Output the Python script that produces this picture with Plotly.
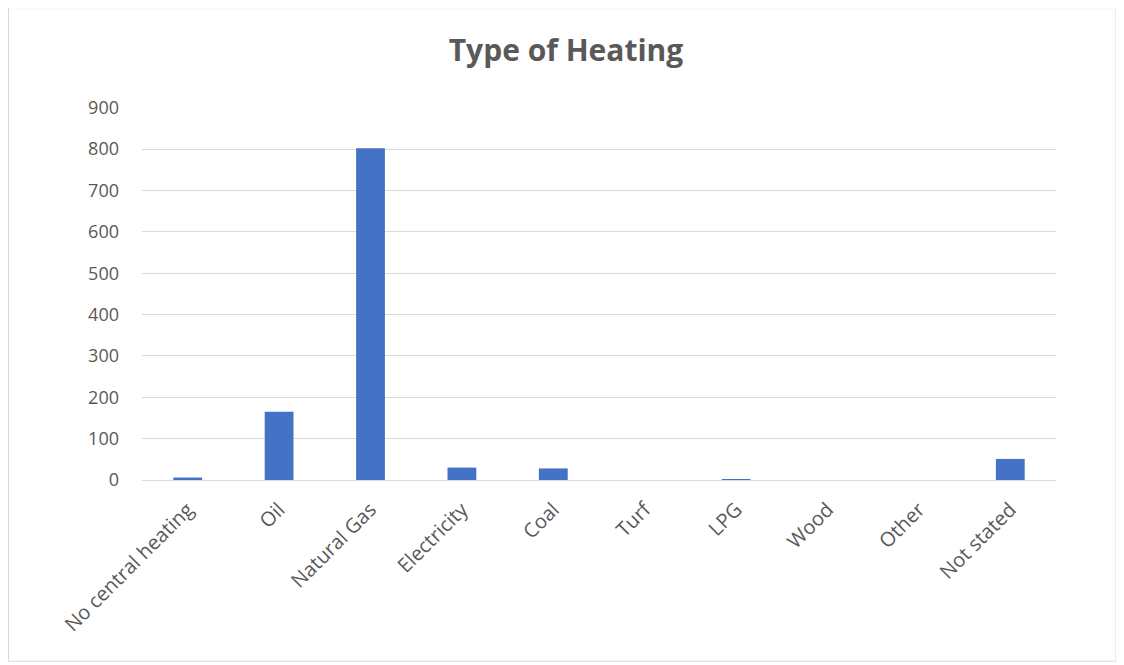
import plotly.graph_objects as go

categories = ["No central heating", "Oil", "Natural Gas", "Electricity", "Coal",
              "Turf", "LPG", "Wood", "Other", "Not stated"]
values = [6, 165, 802, 30, 28, 0, 1, 0, 0, 51]
y_ticks = [0, 100, 200, 300, 400, 500, 600, 700, 800, 900]

OFF = 8  # page body margin
W, H = 1124 - OFF, 665 - OFF
L = 142 - OFF
R = 1124 - 1056
T = 107 - OFF
B = 665 - 480.5

fig = go.Figure(go.Bar(x=categories, y=values, marker=dict(color="#4472C4", line=dict(width=0))))

pw = W - L - R
ph = H - T - B
def px_x(p):
    return (p - OFF - L) / pw
def px_y(p):
    return (H - B - (p - OFF)) / ph

fig.add_shape(type="rect", xref="paper", yref="paper",
              x0=px_x(8.5), x1=px_x(1116), y0=px_y(662), y1=px_y(7.5),
              line=dict(color="#d9d9d9", width=1), fillcolor="rgba(0,0,0,0)", layer="below")

fig.update_layout(
    width=W, height=H,
    margin=dict(l=L, r=R, t=T, b=B),
    paper_bgcolor="white", plot_bgcolor="white",
    bargap=0.685,
    title=dict(text="<b>Type of Heating</b>", x=0.5, xanchor="center", y=1 - (50 - OFF) / H, yanchor="middle",
               font=dict(family="Open Sans, Liberation Sans, sans-serif", size=30, color="#595959")),
    font=dict(family="Open Sans, Liberation Sans, sans-serif", size=18, color="#595959"),
    showlegend=False,
)
fig.update_xaxes(tickangle=-45, showgrid=False, showline=True, linecolor="#d9d9d9", linewidth=1,
                 ticks="", ticklabelstandoff=9, tickfont=dict(size=20, color="#595959"))
fig.update_yaxes(range=[0, 902], tickvals=y_ticks, showgrid=True, gridcolor="#d9d9d9", gridwidth=1,
                 zeroline=False, showline=False, ticks="", ticklabelstandoff=22,
                 tickfont=dict(size=18, color="#595959"))

fig.write_html("out.html")
